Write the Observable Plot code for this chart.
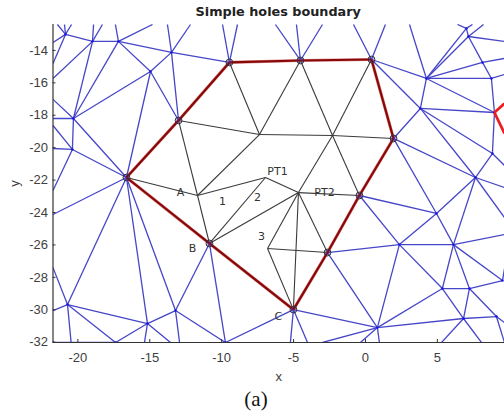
<!DOCTYPE html>
<html><head><meta charset="utf-8">
<script src="https://cdn.jsdelivr.net/npm/d3@7"></script>
<script src="https://cdn.jsdelivr.net/npm/@observablehq/plot@0.6"></script>
<style>
html,body{margin:0;padding:0;background:#fff;overflow:hidden}
#t{height:20px;padding-left:52.5px;text-align:center;font:bold 12.8px/24px "DejaVu Sans",sans-serif;color:#222}
#c{height:30px;text-align:center;font:21px/28px "Liberation Serif",serif;color:#111;padding-left:8px}
svg{display:block}
</style></head><body>
<div id="t">Simple holes boundary</div>
<div id="p"></div>
<div id="c">(a)</div>
<script>
const xDomain = [-21.73, 9.67], yDomain = [-32.02, -12.40];
const xTicks = [-20, -15, -10, -5, 0, 5];
const yTicks = [-14, -16, -18, -20, -22, -24, -26, -28, -30, -32];

const boundaryNodes = {
  h:[-16.62,-21.84], i:[-13.00,-18.32], j:[-9.46,-14.74], k:[-4.52,-14.62], l:[0.42,-14.56],
  m:[1.95,-19.43], n:[-0.42,-22.95], o:[-2.64,-26.47], p:[-5.01,-29.99], q:[-10.85,-25.91]
};
const innerNodes = {
  r:[-7.37,-19.19], s:[-2.29,-19.25], t:[-11.68,-22.95], u:[-6.95,-21.84], v:[-4.66,-22.77], w:[-6.81,-26.22]
};
const outerNodes = {
  a:[-20.86,-13.01], b:[-18.98,-13.44], c:[-17.18,-13.44], d:[-13.49,-14.12], e:[-14.95,-15.30],
  f:[-20.31,-18.20], g:[-20.38,-20.11], B1:[-20.72,-29.68], B2:[-15.16,-30.85], B3:[-13.21,-30.05],
  B4:[0.83,-31.10], B5:[2.36,-25.98], B6:[6.12,-25.98], B7:[5.35,-28.69], B8:[7.23,-28.69],
  B9:[6.82,-30.54], B10:[9.11,-30.42], B11:[9.53,-28.20], B12:[4.94,-24.06], B13:[7.65,-21.84],
  B14:[8.83,-20.36], B15:[8.97,-17.83], B16:[3.82,-17.58], B17:[4.24,-15.73], B18:[8.76,-15.73],
  B19:[8.14,-14.74], B20:[7.16,-13.14], B21:[7.02,-12.64], B22:[-9.74,-32.02], B23:[-17.38,-32.02], B24:[-21.73,-32.02]
};
const nodes = {...boundaryNodes, ...innerNodes, ...outerNodes};

const boundaryPath = "h i j k l m n o p q h".split(" ");
const innerEdges = "j-r k-r k-s l-s i-r i-t r-s s-m r-t s-v s-n h-t t-q t-u u-q u-v v-q v-n v-w v-o v-p w-o w-p".split(" ");
const outerEdges = ("a-b b-c b-f c-f c-d c-e d-j d-e e-f e-i e-h d-i f-g f-h g-h h-B1 h-B2 h-B3 q-B3 q-B22 B3-B22 " +
  "B1-B2 B2-B3 B1-B23 B2-B23 B24-B23 p-B22 p-B4 o-B4 o-B5 B4-B5 B4-B7 B4-B9 B5-B6 B5-B7 B5-B12 n-B5 n-B12 " +
  "m-B12 m-B13 m-B16 l-B16 l-B17 B17-B16 B17-B21 B17-B20 B17-B18 B17-B19 B17-B15 B16-B15 B16-B13 B16-B14 " +
  "B20-B21 B20-B19 B19-B18 B18-B15 B15-B14 B14-B13 B13-B12 B13-B6 B12-B6 B6-B7 B6-B8 B6-B11 B7-B8 B7-B9 " +
  "B8-B9 B8-B10 B8-B11 B9-B10").split(" ");

// edges leaving the visible window: [node, x or y at the window edge]
const topStubs = [["a",-21.42],["a",-20.93],["a",-20.44],["b",-18.91],["b",-18.29],["c",-17.39],["c",-14.81],
  ["d",-13.77],["d",-12.17],["j",-9.94],["j",-8.90],["k",-6.26],["k",-4.80],["k",-2.99],["l",-0.83],["l",1.39],
  ["B17",3.06],["B21",6.40],["B21",7.44],["B20",8.21]];
const leftStubs = [["a",-13.51],["a",-14.80],["b",-15.73],["f",-17.02],["f",-18.20],["g",-18.63],["g",-20.05],
  ["g",-22.64],["h",-24.12],["B1",-27.40],["B1",-30.05]];
const bottomStubs = [["B1",-20.47],["B2",-15.37],["B2",-13.56],["B3",-12.93],["p",-5.22],["p",-4.03],
  ["B4",0.97],["B4",-0.35],["B4",-2.99],["B9",5.29],["B9",8.07],["B10",9.67]];
const rightStubs = [["B20",-13.44],["B19",-14.49],["B18",-15.48],["B14",-21.10],["B13",-22.46],["B13",-24.31],
  ["B6",-25.36],["B11",-27.46],["B10",-30.79]];
const redStubs = [["B15",-17.27],["B15",-19.12]];

const labelText = ["A","B","C","1","2","3","PT1","PT2"];
const labelX = [-12.87,-12.03,-6.05,-9.94,-7.51,-7.23,-6.12,-2.85];
const labelY = [-22.77,-26.22,-30.42,-23.31,-23.06,-25.48,-21.47,-22.77];

const seg = (a, x2, y2) => ({x1:nodes[a][0], y1:nodes[a][1], x2, y2});
const edge = s => { const [a,b] = s.split("-"); return seg(a, nodes[b][0], nodes[b][1]); };
const blue = [
  ...outerEdges.map(edge),
  ...topStubs.map(([n,x]) => seg(n, x, yDomain[1])),
  ...leftStubs.map(([n,y]) => seg(n, xDomain[0], y)),
  ...bottomStubs.map(([n,x]) => seg(n, x, yDomain[0])),
  ...rightStubs.map(([n,y]) => seg(n, xDomain[1], y))
];
const link = {x1:"x1", y1:"y1", x2:"x2", y2:"y2"};
const boundary = d3.pairs(boundaryPath).map(([a,b]) => seg(a, nodes[b][0], nodes[b][1]));
const red = redStubs.map(([n,y]) => seg(n, xDomain[1], y));
const boundaryPts = Object.values(boundaryNodes);
const meshPts = Object.values(outerNodes);
const plain = d => String(d);

const fig = Plot.plot({
  width: 504, height: 365,
  marginTop: 4, marginBottom: 43, marginLeft: 52.5, marginRight: 0,
  x: {domain: xDomain}, y: {domain: yDomain},
  style: {background: "#fff", overflow: "visible"},
  marks: [
    Plot.link(blue, {...link, stroke:"#4646c8", strokeWidth:1.3, clip:true}),
    Plot.dot(meshPts, {x:d=>d[0], y:d=>d[1], r:1.2, fill:"#1515e0", clip:true}),
    Plot.link(innerEdges.map(edge), {...link, stroke:"#3a3a3a", strokeWidth:1.1}),
    Plot.link(red, {...link, stroke:"#ee1c1c", strokeWidth:2.8, clip:true}),
    Plot.link(boundary, {...link, stroke:"#d04040", strokeWidth:3.2, strokeOpacity:0.6}),
    Plot.link(boundary, {...link, stroke:"#860808", strokeWidth:2.2}),
    Plot.dot(boundaryPts, {x:d=>d[0], y:d=>d[1], r:3.4, stroke:"#333", strokeWidth:1, fill:"#2a2ac0", fillOpacity:0.25}),
    Plot.text(labelText, {x:labelX, y:labelY, text:d=>d, fontSize:11, fontFamily:"DejaVu Sans", fill:"#333"}),
    Plot.ruleX([xDomain[0]], {stroke:"#333", strokeWidth:1.2}),
    Plot.ruleY([yDomain[0]], {stroke:"#333", strokeWidth:1.2}),
    Plot.axisX({ticks:xTicks, tickFormat:plain, tickSize:-3, tickPadding:13, label:"x", labelAnchor:"center", labelArrow:"none", labelOffset:38,
      fontSize:13, fontFamily:"Liberation Sans", color:"#404040", stroke:"#333"}),
    Plot.axisY({ticks:yTicks, tickFormat:plain, tickSize:-3, tickPadding:8, label:"y", labelAnchor:"center", labelArrow:"none", labelOffset:43,
      fontSize:13, fontFamily:"Liberation Sans", color:"#404040", stroke:"#333"})
  ]
});
document.getElementById("p").appendChild(fig);
</script>
</body></html>
